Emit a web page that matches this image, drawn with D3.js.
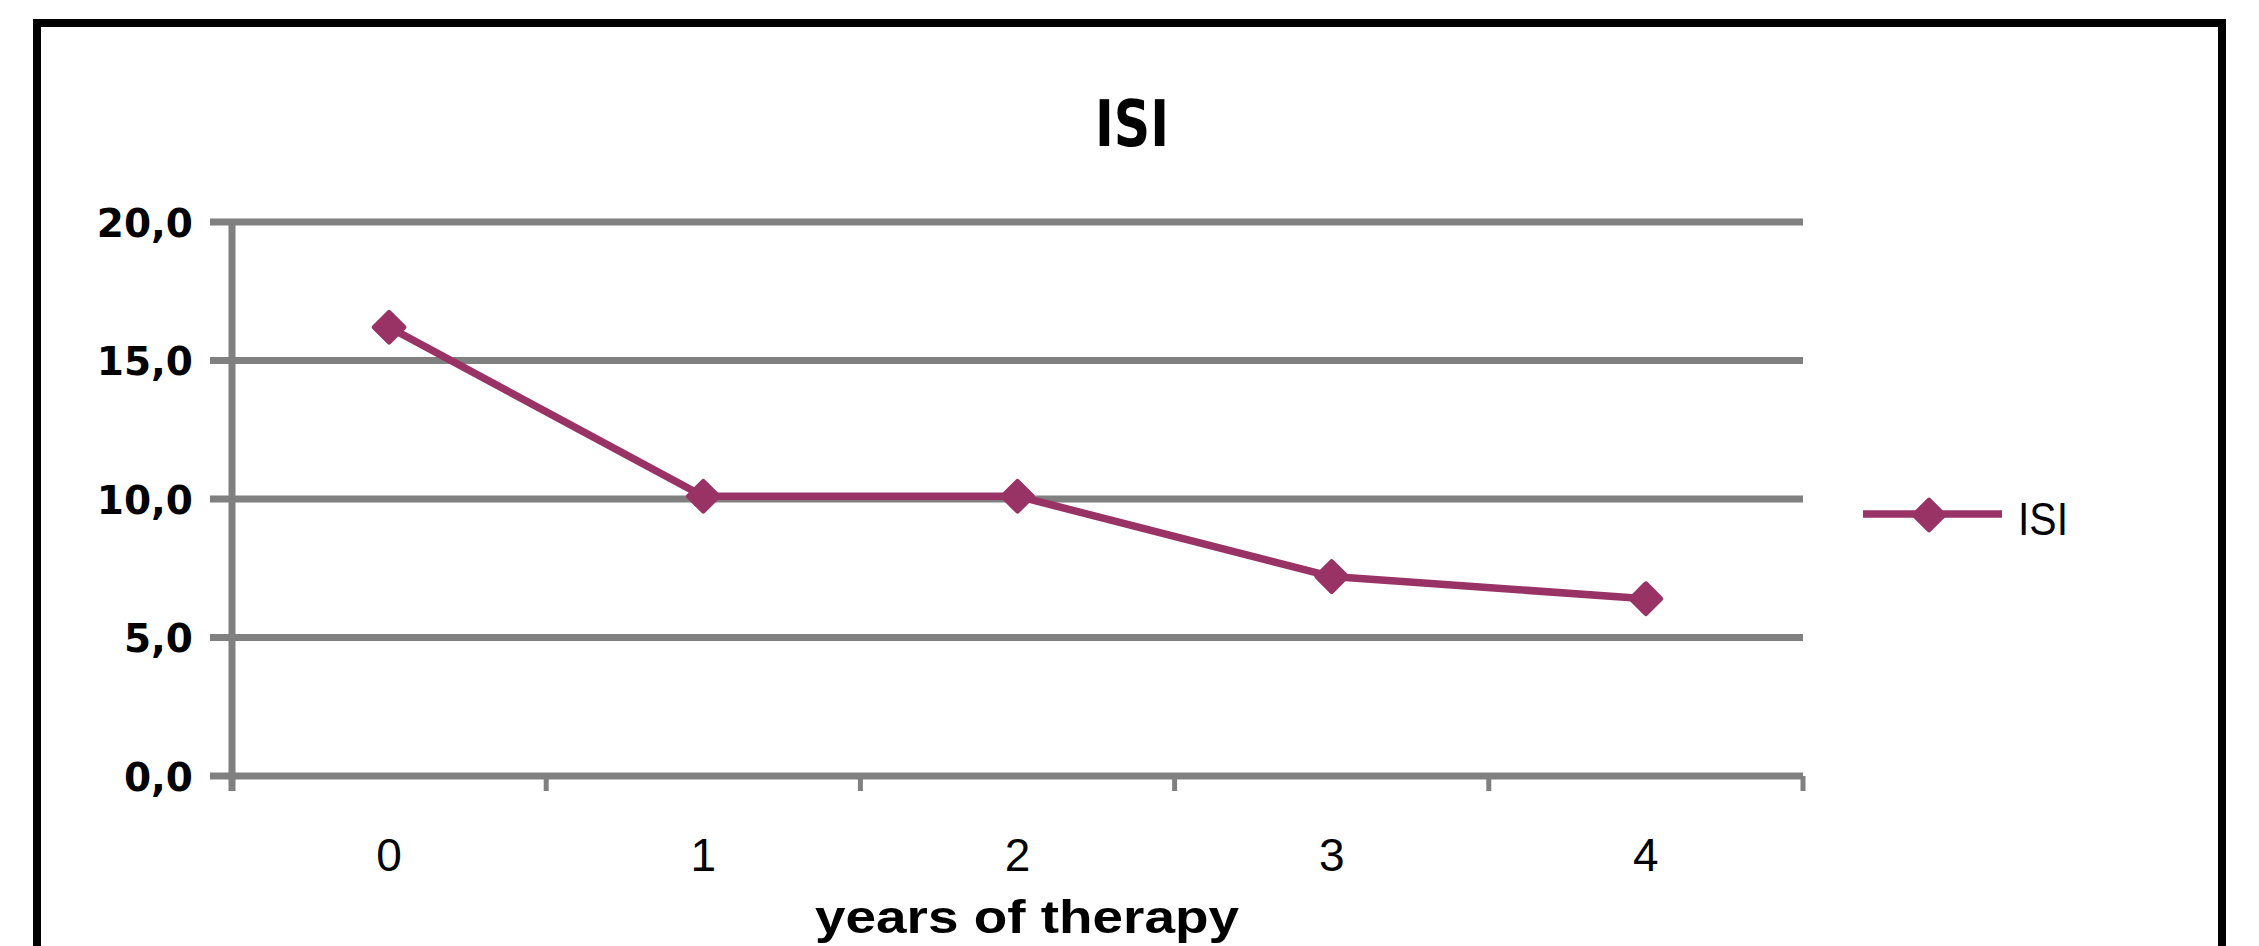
<!DOCTYPE html>
<html>
<head>
<meta charset="utf-8">
<script src="https://cdn.jsdelivr.net/npm/d3@7/dist/d3.min.js"></script>
<style>
  html, body { margin: 0; padding: 0; background: #fff; }
  svg { display: block; }
</style>
</head>
<body>
<svg id="chart" width="2259" height="946"></svg>
<script>
// ---- data ----
const categories = ["0", "1", "2", "3", "4"];
const isiValues = [16.2, 10.1, 10.1, 7.2, 6.4];
const yTickValues = [0, 5, 10, 15, 20];
const chartTitle = "ISI";
const xAxisTitle = "years of therapy";
const seriesName = "ISI";

// ---- layout ----
const W = 2259, H = 946;
const plot = { left: 232, right: 1803, top: 222, bottom: 776 };
const lineColor = "#993366";
const gridColor = "#808080";

const svg = d3.select("#chart");

// outer border (bottom runs off the picture)
svg.append("rect")
  .attr("x", 37).attr("y", 23)
  .attr("width", 2222 - 37).attr("height", 960)
  .attr("fill", "#fff")
  .attr("stroke", "#000")
  .attr("stroke-width", 8);

const x = d3.scaleBand().domain(categories).range([plot.left, plot.right]).padding(0);
const y = d3.scaleLinear().domain([0, 20]).range([plot.bottom, plot.top]);

// horizontal gridlines (with tick stubs to the left of the axis)
svg.append("g").selectAll("line")
  .data(yTickValues)
  .join("line")
  .attr("x1", plot.left - 22)
  .attr("x2", plot.right)
  .attr("y1", d => y(d))
  .attr("y2", d => y(d))
  .attr("stroke", gridColor)
  .attr("stroke-width", 7);

// y axis line
svg.append("line")
  .attr("x1", plot.left).attr("x2", plot.left)
  .attr("y1", y(20) - 3).attr("y2", plot.bottom + 15)
  .attr("stroke", gridColor)
  .attr("stroke-width", 7);

// x axis ticks at category boundaries
const boundaries = categories.map(c => x(c)).concat([x(categories[categories.length - 1]) + x.bandwidth()]);
svg.append("g").selectAll("line")
  .data(boundaries)
  .join("line")
  .attr("x1", d => d).attr("x2", d => d)
  .attr("y1", plot.bottom).attr("y2", plot.bottom + 15)
  .attr("stroke", gridColor)
  .attr("stroke-width", 5);

// y tick labels via d3 axis
const yAxis = d3.axisLeft(y)
  .tickValues(yTickValues)
  .tickSize(0)
  .tickPadding(0)
  .tickFormat(d => d3.format(".1f")(d).replace(".", ","));
const gy = svg.append("g")
  .attr("transform", `translate(193,0)`)
  .call(yAxis);
gy.select(".domain").remove();
gy.selectAll("text")
  .attr("font-family", "'DejaVu Sans', Verdana, sans-serif")
  .attr("font-weight", "bold")
  .attr("font-size", 39)
  .attr("fill", "#000")
  .attr("dy", "0.36em");

// x tick labels via d3 axis
const xAxis = d3.axisBottom(x).tickSize(0).tickPadding(0);
const gx = svg.append("g")
  .attr("transform", `translate(0,871)`)
  .call(xAxis);
gx.select(".domain").remove();
gx.selectAll("text")
  .attr("font-family", "'Liberation Sans', Arial, sans-serif")
  .attr("font-size", 46)
  .attr("fill", "#000")
  .attr("dy", 0)
  .attr("y", 0);

// series line
const line = d3.line()
  .x((d, i) => x(categories[i]) + x.bandwidth() / 2)
  .y(d => y(d));
svg.append("path")
  .datum(isiValues)
  .attr("d", line)
  .attr("fill", "none")
  .attr("stroke", lineColor)
  .attr("stroke-width", 7.5)
  .attr("stroke-linejoin", "round");

// markers (diamonds)
const diamond = d3.symbol().type(d3.symbolSquare).size(440);
svg.append("g").selectAll("path")
  .data(isiValues)
  .join("path")
  .attr("d", diamond)
  .attr("transform", (d, i) => `translate(${x(categories[i]) + x.bandwidth() / 2},${y(d)}) rotate(45)`)
  .attr("fill", lineColor)
  .attr("stroke", lineColor)
  .attr("stroke-width", 5)
  .attr("stroke-linejoin", "round");

// title
svg.append("text")
  .attr("x", 1132).attr("y", 146)
  .attr("text-anchor", "middle")
  .attr("font-family", "'DejaVu Sans', Verdana, sans-serif")
  .attr("font-weight", "bold")
  .attr("font-size", 64)
  .attr("textLength", 74)
  .attr("lengthAdjust", "spacingAndGlyphs")
  .attr("fill", "#000")
  .text(chartTitle);

// x axis title
svg.append("text")
  .attr("x", 1027).attr("y", 933)
  .attr("text-anchor", "middle")
  .attr("font-family", "'Liberation Sans', Arial, sans-serif")
  .attr("font-weight", "bold")
  .attr("font-size", 46)
  .attr("textLength", 424)
  .attr("lengthAdjust", "spacingAndGlyphs")
  .attr("fill", "#000")
  .text(xAxisTitle);

// legend
const lg = svg.append("g");
lg.append("line")
  .attr("x1", 1863).attr("x2", 2002)
  .attr("y1", 514).attr("y2", 514)
  .attr("stroke", lineColor)
  .attr("stroke-width", 7.5);
lg.append("path")
  .attr("d", diamond)
  .attr("transform", `translate(1929,515) rotate(45)`)
  .attr("fill", lineColor)
  .attr("stroke", lineColor)
  .attr("stroke-width", 5)
  .attr("stroke-linejoin", "round");
lg.append("text")
  .attr("x", 2018).attr("y", 535)
  .attr("font-family", "'Liberation Sans', Arial, sans-serif")
  .attr("font-size", 46)
  .attr("textLength", 50)
  .attr("lengthAdjust", "spacingAndGlyphs")
  .attr("fill", "#000")
  .text(seriesName);
</script>
</body>
</html>
